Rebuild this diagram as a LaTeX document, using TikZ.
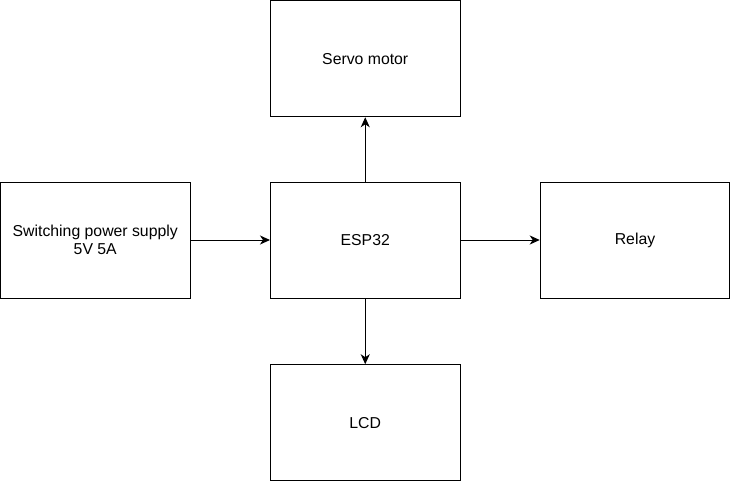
\documentclass[tikz,border=0pt]{standalone}
\usepackage{fontspec}
\setmainfont{Liberation Sans}
\usetikzlibrary{arrows.meta}

\begin{document}
\begin{tikzpicture}[x=1pt,y=1pt,yscale=-1,xscale=1,
  block/.style={draw,line width=1pt,minimum width=189.5pt,minimum height=116pt,align=center,font=\fontsize{15.8pt}{18.5pt}\selectfont,inner sep=0pt},
  link/.style={line width=1pt,-{Stealth[length=10pt,width=9pt,inset=3pt]}}]
\useasboundingbox (0,0) rectangle (731,482);

% Blocks
\node [block] (esp) at (365.25,240) {ESP32};
\node [block] (servo) at (365.25,58.75) {Servo motor};
\node [block] (lcd) at (365.25,422.75) {LCD};
\node [block] (psu) at (95.25,240) {Switching power supply\\5V 5A};
\node [block] (relay) at (635,240) {Relay};

% Links
\draw [link] (psu) -- (esp);
\draw [link] (esp) -- (relay);
\draw [link] (esp) -- (servo);
\draw [link] (esp) -- (lcd);
\end{tikzpicture}
\end{document}
